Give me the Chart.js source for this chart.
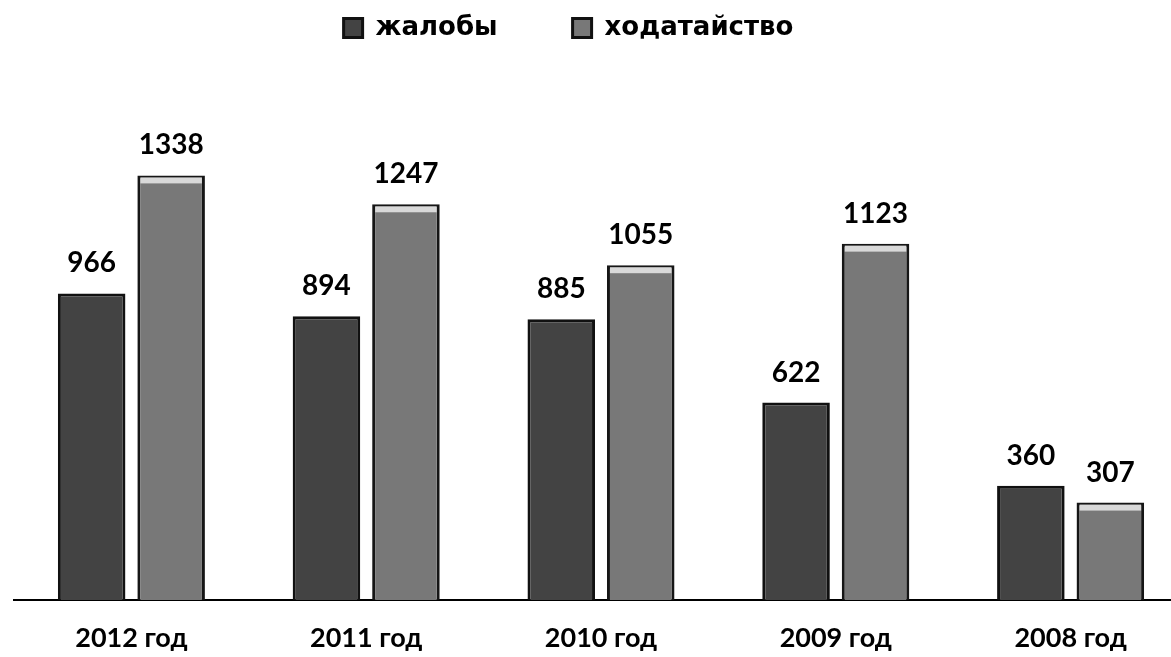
<!DOCTYPE html>
<html>
<head>
<meta charset="utf-8">
<script src="https://cdn.jsdelivr.net/npm/chart.js@4"></script>
<style>
  html, body { margin: 0; padding: 0; background: #fff; overflow: hidden; }
  #wrap { width: 1190px; height: 657px; }
</style>
</head>
<body>
<div id="wrap"><canvas id="chart" width="1190" height="657"></canvas></div>
<script>
// data
const years = ["2012 год", "2011 год", "2010 год", "2009 год", "2008 год"];
const complaints = [966, 894, 885, 622, 360];
const petitions = [1338, 1247, 1055, 1123, 307];

// numbers above bars + light top on the petitions bars
const barLabels = {
  id: "barLabels",
  afterDatasetsDraw(chart) {
    const ctx = chart.ctx;
    ctx.save();
    chart.getDatasetMeta(1).data.forEach(bar => {
      const w = bar.width - 6;
      ctx.fillStyle = "#d9d9d9";
      ctx.fillRect(bar.x - w / 2, bar.y + 2, w, 6);
    });
    ctx.font = "bold 28px Lato";
    ctx.fillStyle = "#000";
    ctx.textAlign = "center";
    ctx.textBaseline = "middle";
    chart.data.datasets.forEach((ds, i) => {
      chart.getDatasetMeta(i).data.forEach((bar, j) => {
        ctx.fillText(ds.data[j], bar.x, bar.y - 30);
      });
    });
    ctx.restore();
  }
};

// extra room after each legend entry
const legendGap = ["\u2003\u2003\u2002", "\u2003\u2003\u2002"];

new Chart(document.getElementById("chart"), {
  type: "bar",
  data: {
    labels: years,
    datasets: [
      {
        label: "жалобы",
        data: complaints,
        backgroundColor: "#434343",
        borderColor: "#111",
        borderWidth: 3,
        borderSkipped: "bottom"
      },
      {
        label: "ходатайство",
        data: petitions,
        backgroundColor: "#787878",
        borderColor: "#161616",
        borderWidth: 3,
        borderSkipped: "bottom"
      }
    ]
  },
  options: {
    responsive: false,
    animation: false,
    layout: { padding: { left: 14, right: 2, top: 5, bottom: 0 } },
    datasets: { bar: { categoryPercentage: 0.677, barPercentage: 0.85 } },
    plugins: {
      legend: {
        position: "top",
        labels: {
          font: { family: "DejaVu Sans", size: 26, weight: "bold" },
          color: "#000",
          boxWidth: 19,
          boxHeight: 19,
          padding: 10,
          generateLabels(chart) {
            const items = Chart.defaults.plugins.legend.labels.generateLabels(chart);
            items.forEach((it, i) => { it.text = it.text + legendGap[i]; it.strokeStyle = "#111"; });
            return items;
          }
        }
      },
      tooltip: { enabled: false }
    },
    scales: {
      x: {
        grid: { display: false, drawTicks: false },
        border: { color: "#000", width: 2 },
        ticks: {
          padding: 22,
          color: "#000",
          font: { family: "Lato", size: 27, weight: "bold" }
        },
        afterFit(scale) { scale.height = 57; }
      },
      y: {
        display: false,
        min: 0,
        max: 1730
      }
    }
  },
  plugins: [barLabels]
});
</script>
</body>
</html>
